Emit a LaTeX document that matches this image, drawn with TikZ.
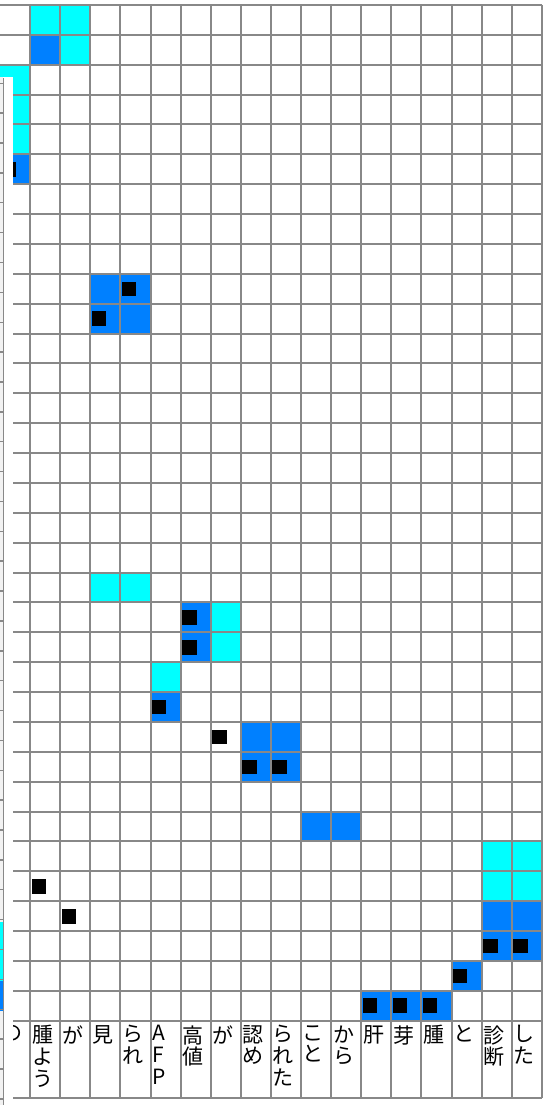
\documentclass[tikz,border=0pt]{standalone}
\usepackage{fontspec}
\newfontfamily\jpfont{Noto Sans CJK JP}
\definecolor{cellcyan}{RGB}{0,255,255}
\definecolor{cellblue}{RGB}{0,128,255}
\definecolor{gridgray}{RGB}{136,136,136}
\definecolor{panelgray}{RGB}{242,242,242}

\begin{document}
\begin{tikzpicture}[
    x=15.05pt, y=-14.935pt,
    gridline/.style={draw=gridgray, line width=1pt},
    lightcell/.style={fill=cellcyan},
    darkcell/.style={fill=cellblue},
    hitmark/.style={fill=black},
    colhead/.style={anchor=north west, inner sep=0pt, align=left, font=\jpfont\fontsize{10.5}{10.8}\selectfont},
]
\useasboundingbox (0,-0.1674) rectangle (18.306,36.826);

% ================== Cells ==================
\fill[lightcell] (1,0) rectangle ++(1,1);
\fill[lightcell] (2,0) rectangle ++(1,1);
\fill[darkcell]  (1,1) rectangle ++(1,1);
\fill[lightcell] (2,1) rectangle ++(1,1);
\fill[lightcell] (0,2) rectangle ++(1,3);
\fill[darkcell]  (0,5) rectangle ++(1,1);

\fill[darkcell]  (3,9) rectangle ++(2,2);

\fill[lightcell] (3,19) rectangle ++(2,1);
\fill[darkcell]  (6,20) rectangle ++(1,2);
\fill[lightcell] (7,20) rectangle ++(1,2);
\fill[lightcell] (5,22) rectangle ++(1,1);
\fill[darkcell]  (5,23) rectangle ++(1,1);
\fill[darkcell]  (8,24) rectangle ++(2,2);
\fill[darkcell]  (10,27) rectangle ++(2,1);

\fill[lightcell] (16,28) rectangle ++(2,2);
\fill[darkcell]  (16,30) rectangle ++(2,2);
\fill[darkcell]  (15,32) rectangle ++(1,1);
\fill[darkcell]  (12,33) rectangle ++(3,1);

% ================== Grid ==================
\foreach \k in {1,...,18}
    \draw[gridline] (\k,0) -- (\k,36.59);
\foreach \j in {0,...,34}
    \draw[gridline] (0,\j) -- (18,\j);
\draw[gridline] (0,36.59) -- (18,36.59);

% ================== Marks ==================
\fill[hitmark] (0.05,5.26) rectangle ++(0.48,0.49);
\fill[hitmark] (4.05,9.26) rectangle ++(0.48,0.49);
\fill[hitmark] (3.05,10.26) rectangle ++(0.48,0.49);
\fill[hitmark] (6.05,20.26) rectangle ++(0.48,0.49);
\fill[hitmark] (6.05,21.26) rectangle ++(0.48,0.49);
\fill[hitmark] (5.05,23.26) rectangle ++(0.48,0.49);
\fill[hitmark] (7.05,24.26) rectangle ++(0.48,0.49);
\fill[hitmark] (8.05,25.26) rectangle ++(0.48,0.49);
\fill[hitmark] (9.05,25.26) rectangle ++(0.48,0.49);
\fill[hitmark] (1.05,29.26) rectangle ++(0.48,0.49);
\fill[hitmark] (2.05,30.26) rectangle ++(0.48,0.49);
\fill[hitmark] (16.05,31.26) rectangle ++(0.48,0.49);
\fill[hitmark] (17.05,31.26) rectangle ++(0.48,0.49);
\fill[hitmark] (15.05,32.26) rectangle ++(0.48,0.49);
\fill[hitmark] (12.05,33.26) rectangle ++(0.48,0.49);
\fill[hitmark] (13.05,33.26) rectangle ++(0.48,0.49);
\fill[hitmark] (14.05,33.26) rectangle ++(0.48,0.49);

% ================== Column heads ==================
\node[colhead] (h0)  at (0.05,34.15)  {の};
\node[colhead] (h1)  at (1.05,34.15)  {腫\\よ\\う};
\node[colhead] (h2)  at (2.05,34.15)  {が};
\node[colhead] (h3)  at (3.05,34.15)  {見};
\node[colhead] (h4)  at (4.05,34.15)  {ら\\れ};
\node[colhead] (h5)  at (5.05,34.15)  {A\\F\\P};
\node[colhead] (h6)  at (6.05,34.15)  {高\\値};
\node[colhead] (h7)  at (7.05,34.15)  {が};
\node[colhead] (h8)  at (8.05,34.15)  {認\\め};
\node[colhead] (h9)  at (9.05,34.15)  {ら\\れ\\た};
\node[colhead] (h10) at (10.05,34.15) {こ\\と};
\node[colhead] (h11) at (11.05,34.15) {か\\ら};
\node[colhead] (h12) at (12.05,34.15) {肝};
\node[colhead] (h13) at (13.05,34.15) {芽};
\node[colhead] (h14) at (14.05,34.15) {腫};
\node[colhead] (h15) at (15.05,34.15) {と};
\node[colhead] (h16) at (16.05,34.15) {診\\断};
\node[colhead] (h17) at (17.05,34.15) {し\\た};

% ================== Left panel edge ==================
\fill[white] (0,2.41) rectangle (0.432,36.83);
\fill[panelgray] (0,2.41) rectangle (0.116,36.83);
\fill[lightcell] (0,30.69) rectangle (0.12,32.69);
\fill[darkcell]  (0,32.69) rectangle (0.12,33.69);
\foreach \t in {0,...,34}
    \draw[gridgray, line width=0.7pt] (0,2.62+\t) -- (0.116,2.62+\t);
\draw[gridgray, line width=0.7pt] (0.116,2.45) -- (0.116,36.83);

\end{tikzpicture}
\end{document}
